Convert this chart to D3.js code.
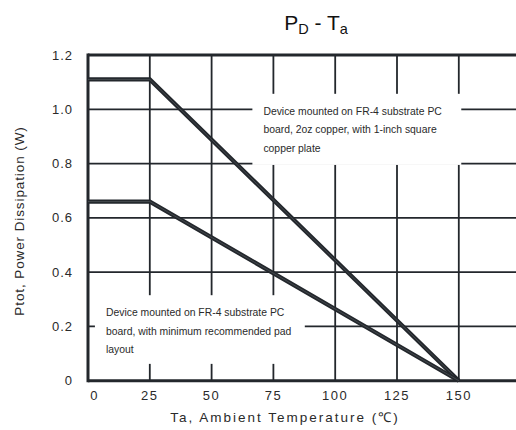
<!DOCTYPE html>
<html>
<head>
<meta charset="utf-8">
<script src="https://cdn.jsdelivr.net/npm/d3@7"></script>
<style>
html,body{margin:0;padding:0;background:#fff;overflow:hidden;}
svg{display:block;font-family:"Liberation Sans",Arial,sans-serif;}
</style>
</head>
<body>
<svg id="c" width="516" height="430"></svg>
<script>
// ---- data ----
const temps = [0, 25, 150];
const pdCopper = [1.11, 1.11, 0];
const pdMinPad = [0.66, 0.66, 0];
const xTicks = [0, 25, 50, 75, 100, 125, 150];
const yTicks = [0, 0.2, 0.4, 0.6, 0.8, 1.0, 1.2];
const yTickLabels = ["0", "0.2", "0.4", "0.6", "0.8", "1.0", "1.2"];
const noteCopper = ["Device mounted on FR-4 substrate PC", "board, 2oz copper, with 1-inch square", "copper plate"];
const noteMinPad = ["Device mounted on FR-4 substrate PC", "board, with minimum recommended pad", "layout"];

const svg = d3.select("#c");
const ink = "#23272c";
const x = d3.scaleLinear().domain([0, 175]).range([88, 520.6]);
const y = d3.scaleLinear().domain([0, 1.2]).range([380.7, 55]);

// grid
const g = svg.append("g");
g.selectAll("line.v").data([25, 50, 75, 100, 125, 150, 175]).join("line")
  .attr("x1", d => x(d)).attr("x2", d => x(d))
  .attr("y1", y(1.2)).attr("y2", y(0))
  .attr("stroke", ink).attr("stroke-width", 1.8);
g.selectAll("line.h").data([0.2, 0.4, 0.6, 0.8, 1.0]).join("line")
  .attr("x1", x(0)).attr("x2", 516)
  .attr("y1", d => y(d)).attr("y2", d => y(d))
  .attr("stroke", ink).attr("stroke-width", 1.8);

// annotation boxes (white, covering grid)
const boxes = [
  {x0: 66.5, x1: 151, y0: 1.057, y1: 0.795, lines: noteCopper},
  {x0: 2.8, x1: 87.7, y0: 0.315, y1: 0.062, lines: noteMinPad}
];
boxes.forEach(b => {
  svg.append("rect")
    .attr("x", x(b.x0)).attr("y", y(b.y0))
    .attr("width", x(b.x1) - x(b.x0)).attr("height", y(b.y1) - y(b.y0))
    .attr("fill", "#fff");
  const t = svg.append("text")
    .attr("font-size", 10.4).attr("fill", "#2a2a2a");
  t.selectAll("tspan").data(b.lines).join("tspan")
    .attr("x", x(b.x0) + 11)
    .attr("y", (d, i) => y(b.y0) + 21 + i * 18.5)
    .text(d => d);
});

// frame: left, top, bottom
svg.append("line").attr("x1", x(0)).attr("x2", x(0)).attr("y1", y(1.2) - 1.5).attr("y2", y(0) + 1.5)
  .attr("stroke", ink).attr("stroke-width", 3);
svg.append("line").attr("x1", x(0)).attr("x2", 516).attr("y1", y(1.2)).attr("y2", y(1.2))
  .attr("stroke", ink).attr("stroke-width", 3);
svg.append("line").attr("x1", x(0)).attr("x2", 516).attr("y1", y(0)).attr("y2", y(0))
  .attr("stroke", ink).attr("stroke-width", 3);

// curves (double-stroke look)
const line = d3.line().x(d => x(d[0])).y(d => y(d[1]));
[pdCopper, pdMinPad].forEach(s => {
  const pts = temps.map((t, i) => [t, s[i]]);
  svg.append("path").attr("d", line(pts)).attr("fill", "none")
    .attr("stroke", ink).attr("stroke-width", 4.2).attr("stroke-linejoin", "miter");
  svg.append("path").attr("d", line(pts)).attr("fill", "none")
    .attr("stroke", "#4b5056").attr("stroke-width", 0.8);
});

// tick labels
svg.selectAll("text.yt").data(yTicks).join("text")
  .attr("x", 73).attr("y", d => y(d) + 4.5)
  .attr("text-anchor", "end").attr("font-size", 13).attr("letter-spacing", 1)
  .attr("fill", "#2a2a2a").text((d, i) => yTickLabels[i]);
svg.selectAll("text.xt").data(xTicks).join("text")
  .attr("x", d => x(d) + (d === 0 ? 6.5 : 0)).attr("y", 400)
  .attr("text-anchor", "middle").attr("font-size", 13).attr("letter-spacing", 1.5)
  .attr("fill", "#2a2a2a").text(d => d);

// axis titles
svg.append("text").attr("x", 285).attr("y", 422)
  .attr("text-anchor", "middle").attr("font-size", 13.5).attr("letter-spacing", 2)
  .attr("fill", "#2a2a2a").text("Ta, Ambient Temperature (\u2103)");
svg.append("text").attr("transform", "translate(24,221) rotate(-90)")
  .attr("text-anchor", "middle").attr("font-size", 13.5).attr("letter-spacing", 0.9)
  .attr("fill", "#2a2a2a").text("Ptot, Power Dissipation (W)");

// title
const title = svg.append("text").attr("x", 316).attr("y", 30)
  .attr("text-anchor", "middle").attr("font-size", 21).attr("fill", "#111");
title.append("tspan").text("P");
title.append("tspan").attr("font-size", 14.5).attr("dy", 4).text("D");
title.append("tspan").attr("dy", -4).text(" - T");
title.append("tspan").attr("font-size", 14.5).attr("dy", 4).text("a");
</script>
</body>
</html>
